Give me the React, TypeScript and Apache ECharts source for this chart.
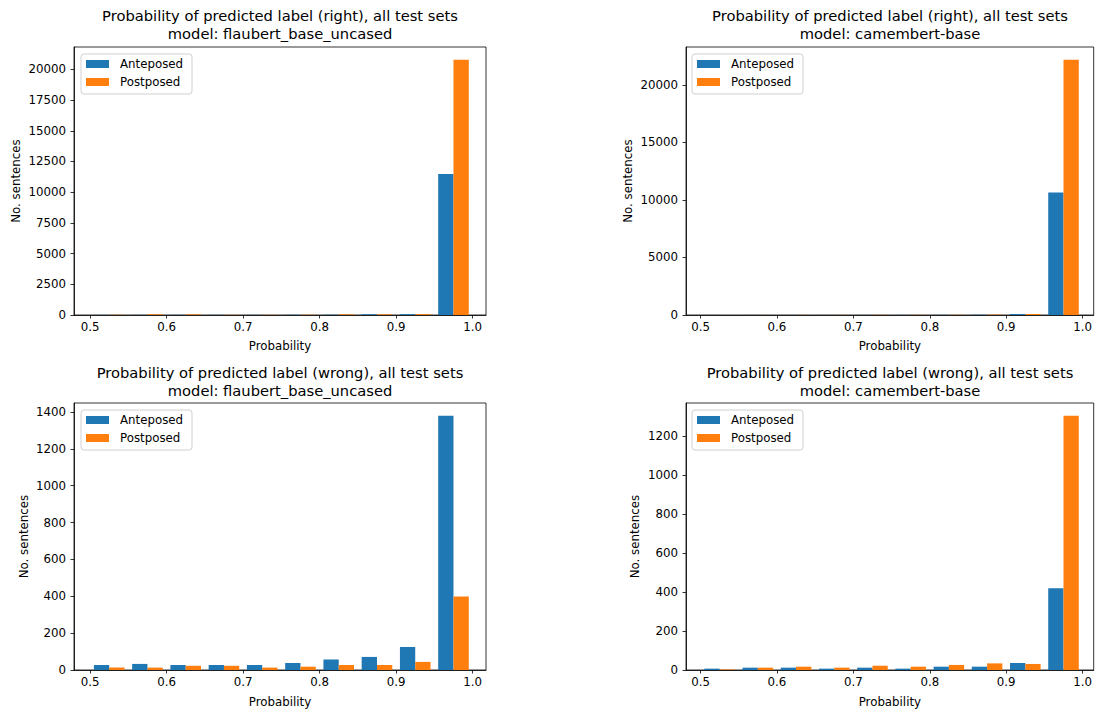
import React, { useEffect, useRef } from "react";
import * as echarts from "echarts";

// Histogram bin edges (probability)
const binEdges = [0.5, 0.55, 0.6, 0.65, 0.7, 0.75, 0.8, 0.85, 0.9, 0.95, 1.0];

// Counts per bin
const flaubertRightAnte = [10, 12, 15, 12, 12, 18, 25, 60, 70, 11480];
const flaubertRightPost = [15, 60, 55, 18, 18, 22, 55, 60, 75, 20780];
const camembertRightAnte = [5, 5, 6, 6, 8, 10, 15, 25, 80, 10635];
const camembertRightPost = [3, 5, 10, 10, 15, 15, 20, 35, 85, 22170];
const flaubertWrongAnte = [27, 33, 27, 27, 27, 38, 57, 71, 125, 1380];
const flaubertWrongPost = [13, 13, 23, 23, 13, 18, 27, 27, 44, 399];
const camembertWrongAnte = [7, 12, 12, 7, 12, 7, 17, 17, 36, 420];
const camembertWrongPost = [3, 12, 17, 12, 22, 17, 26, 34, 31, 1305];

// Tick labels
const xTicks = [0.5, 0.6, 0.7, 0.8, 0.9, 1.0];
const yTicksFlaubertRight = [0, 2500, 5000, 7500, 10000, 12500, 15000, 17500, 20000];
const yTicksCamembertRight = [0, 5000, 10000, 15000, 20000];
const yTicksFlaubertWrong = [0, 200, 400, 600, 800, 1000, 1200, 1400];
const yTicksCamembertWrong = [0, 200, 400, 600, 800, 1000, 1200];

const seriesNames = ["Anteposed", "Postposed"];
const titles = [
  "Probability of predicted label (right), all test sets\nmodel: flaubert_base_uncased",
  "Probability of predicted label (right), all test sets\nmodel: camembert-base",
  "Probability of predicted label (wrong), all test sets\nmodel: flaubert_base_uncased",
  "Probability of predicted label (wrong), all test sets\nmodel: camembert-base",
];

const FONT = "DejaVu Sans";
const COLORS = ["#1f77b4", "#ff7f0e"];

function App() {
  const ref = useRef<HTMLDivElement>(null);

  useEffect(() => {
    document.body.style.margin = "0";
    if (!ref.current) return;
    const chart = echarts.init(ref.current, null, { renderer: "svg" });

    const panels = [
      { grid: { left: 74, top: 47, width: 412, height: 268 }, xr: [0.479, 1.0175], ymax: 21820, yt: yTicksFlaubertRight, a: flaubertRightAnte, p: flaubertRightPost, gap: 52, lx: 81, ly: 54 },
      { grid: { left: 686, top: 47, width: 408, height: 268 }, xr: [0.481, 1.0145], ymax: 23280, yt: yTicksCamembertRight, a: camembertRightAnte, p: camembertRightPost, gap: 52, lx: 692, ly: 54 },
      { grid: { left: 74, top: 403, width: 412, height: 267 }, xr: [0.479, 1.0175], ymax: 1449, yt: yTicksFlaubertWrong, a: flaubertWrongAnte, p: flaubertWrongPost, gap: 44, lx: 81, ly: 410 },
      { grid: { left: 686, top: 403, width: 408, height: 267 }, xr: [0.481, 1.0145], ymax: 1370, yt: yTicksCamembertWrong, a: camembertWrongAnte, p: camembertWrongPost, gap: 45, lx: 692, ly: 410 },
    ];

    const axisLine = { show: true, onZero: false, lineStyle: { color: "#000", width: 0.8 } };
    const axisTick = (vals: number[]) => ({ show: true, inside: false, length: 3.5, lineStyle: { color: "#000", width: 0.8 }, customValues: vals });

    const makeRender = (slot: number) => (params: any, api: any) => {
      const l = api.value(0);
      const r = api.value(1);
      const h = api.value(2);
      const w = r - l;
      const x0 = l + w * (0.1 + 0.4 * slot);
      const x1 = x0 + 0.4 * w;
      const p0 = api.coord([x0, 0]);
      const p1 = api.coord([x1, h]);
      return {
        type: "rect",
        shape: { x: p0[0], y: p1[1], width: p1[0] - p0[0], height: p0[1] - p1[1] },
        style: { fill: api.visual("color") },
      };
    };

    const grids: any[] = [];
    const xAxes: any[] = [];
    const yAxes: any[] = [];
    const series: any[] = [];
    const legends: any[] = [];
    const graphics: any[] = [];

    panels.forEach((pn, i) => {
      grids.push({ ...pn.grid, show: true, borderColor: "#000", borderWidth: 0.8, backgroundColor: "transparent", containLabel: false });
      xAxes.push({
        type: "value",
        gridIndex: i,
        min: pn.xr[0],
        max: pn.xr[1],
        splitLine: { show: false },
        axisLine,
        axisTick: axisTick(xTicks),
        axisLabel: { customValues: xTicks, formatter: (v: number) => v.toFixed(1), margin: 6, fontFamily: FONT, fontSize: 11.8, color: "#000" },
        name: "Probability",
        nameLocation: "middle",
        nameGap: i < 2 ? 25 : 26,
        nameTextStyle: { fontFamily: FONT, fontSize: 11.8, color: "#000" },
      });
      yAxes.push({
        type: "value",
        gridIndex: i,
        min: 0,
        max: pn.ymax,
        splitLine: { show: false },
        axisLine,
        axisTick: axisTick(pn.yt),
        axisLabel: { customValues: pn.yt, formatter: (v: number) => String(v), margin: 8, fontFamily: FONT, fontSize: 11.8, color: "#000" },
        name: "No. sentences",
        nameLocation: "middle",
        nameGap: pn.gap,
        nameTextStyle: { fontFamily: FONT, fontSize: 11.8, color: "#000" },
      });
      [pn.a, pn.p].forEach((vals, s) => {
        series.push({
          type: "custom",
          name: seriesNames[s],
          xAxisIndex: i,
          yAxisIndex: i,
          itemStyle: { color: COLORS[s] },
          encode: { x: [0, 1], y: 2 },
          renderItem: makeRender(s),
          data: vals.map((v, k) => [binEdges[k], binEdges[k + 1], v]),
          z: 1,
        });
      });
      legends.push({
        data: seriesNames,
        orient: "vertical",
        left: pn.lx,
        top: pn.ly,
        icon: "rect",
        itemWidth: 23,
        itemHeight: 8,
        itemGap: 4,
        padding: [3, 9, 5, 5],
        backgroundColor: "rgba(255,255,255,0.8)",
        borderColor: "#d0d0d0",
        borderWidth: 1,
        borderRadius: 3,
        selectedMode: false,
        textStyle: { fontFamily: FONT, fontSize: 11.8, color: "#000", lineHeight: 14, padding: [0, 0, 0, 6] },
      });
      graphics.push({
        type: "text",
        x: pn.grid.left + pn.grid.width / 2,
        y: i < 2 ? 6.5 : 363,
        style: {
          text: titles[i],
          fontFamily: FONT,
          fontSize: 14.7,
          lineHeight: 18,
          fill: "#000",
          align: "center",
          verticalAlign: "top",
        },
      });
    });

    chart.setOption({
      animation: false,
      backgroundColor: "#fff",
      grid: grids,
      xAxis: xAxes,
      yAxis: yAxes,
      legend: legends,
      series,
      graphic: graphics,
    });

    return () => chart.dispose();
  }, []);

  return <div ref={ref} style={{ width: 1095, height: 711 }} />;
}

export default App;
